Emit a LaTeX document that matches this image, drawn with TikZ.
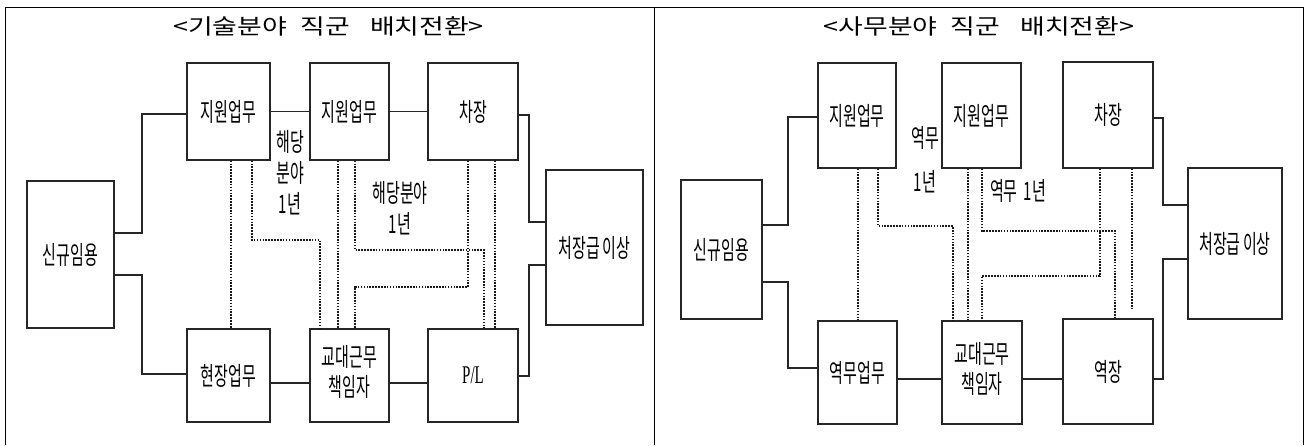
\documentclass[tikz,border=0pt]{standalone}
\usepackage{fontspec}
\setmainfont{Noto Sans CJK KR}
\newfontfamily\serifl{Liberation Serif}
\usetikzlibrary{calc}
\newcommand\tallt[1]{\scalebox{1}[1.7]{#1}}
\newcommand\stackt[1]{\scalebox{1}[1.7]{\begin{tabular}{@{}c@{}}#1\end{tabular}}}
\begin{document}
\begin{tikzpicture}[x=1pt,y=-1pt,
  frame/.style={line width=0.8pt, draw=black},
  box/.style={draw=black!85, line width=1.3pt, inner sep=0pt, align=center, font=\fontsize{15}{17}\selectfont},
  link/.style={draw=black!85, line width=1.2pt},
  dot/.style={draw=black!90, line width=1.2pt, dash pattern=on 1.6pt off 1.3pt},
  lbl/.style={inner sep=0pt, align=center, font=\fontsize{15}{18.2}\selectfont},
  ttl/.style={inner sep=0pt, font=\fontsize{21.5}{24}\selectfont}]
\useasboundingbox (0,0) rectangle (1306,445);
\fill[white] (0,0) rectangle (1306,445);
% frame
\draw[frame] (5,445) -- (5,7) -- (1303,7) -- (1303,445);
\draw[frame] (654,7) -- (654,445);
% titles
\node[ttl] (T1) at (328.5,26) {\scalebox{1.25}[1]{<기술분야\hspace{0.5em}직군\hspace{0.75em}배치전환>}};
\node[ttl] (T2) at (979,26) {\scalebox{1.25}[1]{<사무분야\hspace{0.5em}직군\hspace{0.75em}배치전환>}};

% ---------- left panel ----------
\node[box, minimum width=87, minimum height=147] (A1) at (70.5,254.5) {\tallt{신규임용}};
\node[box, minimum width=83, minimum height=97] (A2) at (228.5,111.5) {\tallt{지원업무}};
\node[box, minimum width=83, minimum height=93] (A3) at (228.5,375.5) {\tallt{현장업무}};
\node[box, minimum width=79, minimum height=97] (A4) at (349.5,111.5) {\tallt{지원업무}};
\node[box, minimum width=79, minimum height=93] (A5) at (349.5,375.5) {\stackt{교대근무\\책임자}};
\node[box, minimum width=90, minimum height=97] (A6) at (473,111.5) {\tallt{차장}};
\node[box, minimum width=90, minimum height=93] (A7) at (473,375.5) {\tallt{\serifl P/L}};
\node[box, minimum width=97, minimum height=155] (A8) at (594.5,247.5) {\tallt{처장급\,이상}};

\draw[link] (A1.east |- 0,233) -- (142,233) |- (A2.west |- 0,114);
\draw[link] (A1.east |- 0,275) -- (142,275) |- (A3.west |- 0,374);
\draw[link] (A2.east) -- (A4.west);
\draw[link] (A4.east) -- (A6.west);
\draw[link] (A3.east |- 0,383) -- (A5.west |- 0,383);
\draw[link] (A5.east |- 0,383) -- (A7.west |- 0,383);
\draw[link] (A6.east |- 0,115) -- (529,115) |- (A8.west |- 0,222);
\draw[link] (A7.east |- 0,376) -- (529,376) |- (A8.west |- 0,265);

\draw[dot] (A2.south -| 231,0) -- (A3.north -| 231,0);
\draw[dot] (A2.south -| 252,0) -- (252,240) -- (320,240) -- (A5.north -| 320,0);
\draw[dot] (A4.south -| 338,0) -- (A5.north -| 338,0);
\draw[dot] (A4.south -| 355,0) -- (355,250) -- (484,250) -- (A7.north -| 484,0);
\draw[dot] (A6.south -| 468,0) -- (468,287) -- (355,287) -- (A5.north -| 355,0);
\draw[dot] (A6.south -| 495,0) -- (A7.north -| 495,0);

\node[lbl] (L1) at (290,176) {\scalebox{1}[1.7]{\begin{tabular}{@{}c@{}}해당\\분야\\1년\end{tabular}}};
\node[lbl] (L2) at (400,211.5) {\scalebox{1}[1.7]{\begin{tabular}{@{}c@{}}해당분야\\1년\end{tabular}}};

% ---------- right panel ----------
\node[box, minimum width=81, minimum height=139] (B1) at (721.5,249.5) {\tallt{신규임용}};
\node[box, minimum width=78, minimum height=105] (B2) at (857,115.5) {\tallt{지원업무}};
\node[box, minimum width=79, minimum height=103] (B3) at (857.5,372.5) {\tallt{역무업무}};
\node[box, minimum width=79, minimum height=105] (B4) at (981.5,115.5) {\tallt{지원업무}};
\node[box, minimum width=80, minimum height=103] (B5) at (982,372.5) {\stackt{교대근무\\책임자}};
\node[box, minimum width=90, minimum height=106] (B6) at (1108,115) {\tallt{차장}};
\node[box, minimum width=90, minimum height=105] (B7) at (1108,371.5) {\tallt{역장}};
\node[box, minimum width=94, minimum height=151] (B8) at (1235,243.5) {\tallt{처장급\,이상}};

\draw[link] (B1.east |- 0,225) -- (788,225) |- (B2.west |- 0,117);
\draw[link] (B1.east |- 0,282) -- (788,282) |- (B3.west |- 0,368);
\draw[link] (B3.east |- 0,379) -- (B5.west |- 0,379);
\draw[link] (B5.east |- 0,379) -- (B7.west |- 0,379);
\draw[link] (B6.east |- 0,118) -- (1163,118) |- (B8.west |- 0,205);
\draw[link] (B7.east |- 0,379) -- (1163,379) |- (B8.west |- 0,259);

\coordinate (E1) at (1132,310);
\draw[dot] (B2.south -| 858,0) -- (B3.north -| 858,0);
\draw[dot] (B2.south -| 878,0) -- (878,226) -- (953,226) -- (B5.north -| 953,0);
\draw[dot] (B4.south -| 968,0) -- (B5.north -| 968,0);
\draw[dot] (B4.south -| 982,0) -- (982,231) -- (1115,231) -- (B7.north -| 1115,0);
\draw[dot] (B6.south -| 1100,0) -- (1100,276) -- (982,276) -- (B5.north -| 982,0);
\draw[dot] (B6.south -| 1132,0) -- (E1);

\node[lbl] (R1) at (925,163.5) {\scalebox{1}[1.7]{\begin{tabular}{@{}c@{}}역무\\[8pt]1년\end{tabular}}};
\node[lbl] (R2) at (1018,191) {\tallt{역무\hspace{0.4em}1년}};
\end{tikzpicture}
\end{document}
